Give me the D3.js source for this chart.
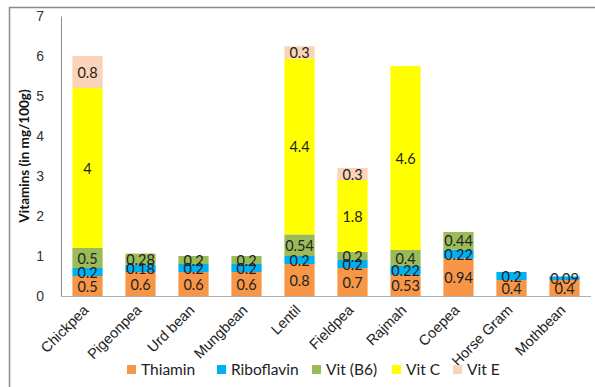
<!DOCTYPE html>
<html>
<head>
<meta charset="utf-8">
<script src="https://cdn.jsdelivr.net/npm/d3@7"></script>
<style>
  html, body { margin: 0; padding: 0; background: #fff; }
  svg { display: block; font-family: Lato, "Open Sans", "Liberation Sans", sans-serif; }
</style>
</head>
<body>
<svg id="chart" width="595" height="387"></svg>
<script>
// Pulse varieties
const categories = ["Chickpea", "Pigeonpea", "Urd bean", "Mungbean", "Lentil",
                    "Fieldpea", "Rajmah", "Coepea", "Horse Gram", "Mothbean"];

// Vitamin content (mg/100g), one array per vitamin, in category order
const thiamin    = [0.5, 0.6, 0.6, 0.6, 0.8, 0.7, 0.53, 0.94, 0.4, 0.4];
const riboflavin = [0.2, 0.18, 0.2, 0.2, 0.2, 0.2, 0.22, 0.22, 0.2, 0.09];
const vitB6      = [0.5, 0.28, 0.2, 0.2, 0.54, 0.2, 0.4, 0.44, 0, 0];
const vitC       = [4, 0, 0, 0, 4.4, 1.8, 4.6, 0, 0, 0];
const vitE       = [0.8, 0, 0, 0, 0.3, 0.3, 0, 0, 0, 0];

const seriesNames = ["Thiamin", "Riboflavin", "Vit (B6)", "Vit C", "Vit E"];
const seriesColors = ["#F79646", "#00B0F0", "#9BBB59", "#FFFF00", "#FBD3B8"];
const yTicks = [0, 1, 2, 3, 4, 5, 6, 7];

const seriesValues = [thiamin, riboflavin, vitB6, vitC, vitE];
const rows = categories.map((c, i) => {
  const r = { category: c };
  seriesNames.forEach((s, j) => { r[s] = seriesValues[j][i]; });
  return r;
});

const svg = d3.select("#chart");

// outer frame of the chart area
svg.append("path")
  .attr("d", "M9.5,387 V7.5 H595")
  .attr("fill", "none")
  .attr("stroke", "#8c8c8c")
  .attr("stroke-width", 1.5);

const x = d3.scaleBand().domain(categories).range([61, 591]).paddingInner(0.43).paddingOuter(0.215);
const y = d3.scaleLinear().domain([0, 7]).range([296, 16]);

const stacked = d3.stack().keys(seriesNames)(rows);
const color = d3.scaleOrdinal().domain(seriesNames).range(seriesColors);

const layers = svg.append("g").selectAll("g")
  .data(stacked).join("g")
  .attr("fill", d => color(d.key));

layers.selectAll("rect")
  .data(d => d.filter(p => p[1] - p[0] > 0))
  .join("rect")
  .attr("x", p => x(p.data.category))
  .attr("width", x.bandwidth())
  .attr("y", p => y(p[1]))
  .attr("height", p => y(p[0]) - y(p[1]));

// value labels centred in each segment
const labels = svg.append("g")
  .attr("font-size", 14.5)
  .attr("fill", "#222")
  .attr("text-anchor", "middle");
stacked.forEach(layer => {
  layer.filter(p => p[1] - p[0] > 0).forEach(p => {
    labels.append("text")
      .attr("x", x(p.data.category) + x.bandwidth() / 2)
      .attr("y", (y(p[0]) + y(p[1])) / 2)
      .attr("dy", "0.38em")
      .text(p.data[layer.key]);
  });
});

// y axis
const yAxis = svg.append("g")
  .attr("transform", "translate(61,0)")
  .call(d3.axisLeft(y).tickValues(yTicks).tickSize(0).tickPadding(17).tickFormat(d3.format("d")));
yAxis.select(".domain").attr("stroke", "#8c8c8c");
yAxis.selectAll("text").attr("font-size", 14).attr("fill", "#333").attr("font-family", null);

// x axis with slanted category names
const xAxis = svg.append("g")
  .attr("transform", "translate(0,296)")
  .call(d3.axisBottom(x).tickSize(0).tickPadding(0));
xAxis.select(".domain").attr("stroke", "#b0b0b0").attr("d", "M61,0.5H591");
xAxis.selectAll("text")
  .attr("font-size", 14.5)
  .attr("fill", "#222")
  .attr("font-family", null)
  .attr("text-anchor", "end")
  .attr("dy", null)
  .attr("y", 0)
  .attr("transform", "translate(2,15) rotate(-45)");

// y axis title
svg.append("text")
  .attr("transform", "translate(29,156) rotate(-90)")
  .attr("text-anchor", "middle")
  .attr("font-size", 13.5)
  .attr("font-weight", "bold")
  .attr("fill", "#111")
  .text("Vitamins (in mg/100g)");

// legend
const legendX = [127, 217, 312, 392, 453];
const legend = svg.append("g").attr("transform", "translate(0,369)");
seriesNames.forEach((s, i) => {
  legend.append("rect")
    .attr("x", legendX[i]).attr("y", -4)
    .attr("width", 9).attr("height", 9)
    .attr("fill", seriesColors[i]);
  legend.append("text")
    .attr("x", legendX[i] + 14).attr("y", 0)
    .attr("dy", "0.36em")
    .attr("font-size", 15.5)
    .attr("fill", "#222")
    .text(s);
});
</script>
</body>
</html>
